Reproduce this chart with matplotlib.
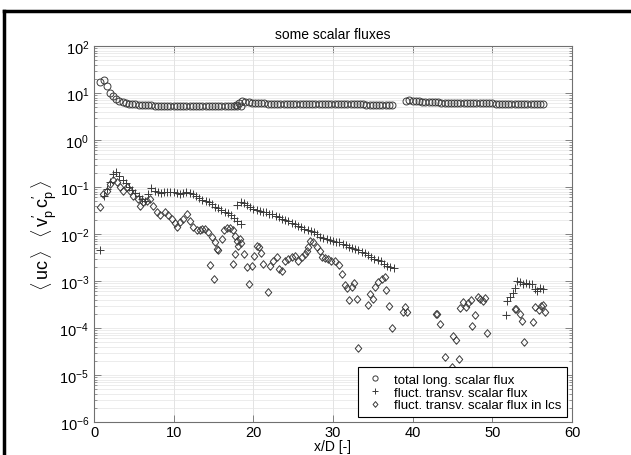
import matplotlib
matplotlib.use("Agg")
import matplotlib.pyplot as plt
from matplotlib.ticker import LogLocator, NullFormatter, FixedLocator
from matplotlib.lines import Line2D

plt.rcParams['font.family'] = ['Liberation Sans', 'DejaVu Sans']
plt.rcParams['mathtext.fontset'] = 'custom'
plt.rcParams['mathtext.rm'] = 'Liberation Sans'
plt.rcParams['mathtext.it'] = 'Liberation Sans:italic'
plt.rcParams['mathtext.bf'] = 'Liberation Sans:bold'

# ---------------- data ----------------
title = "some scalar fluxes"
xlabel = "x/D [-]"
ylabel = r"$\langle\,\mathrm{uc}\,\rangle\;\;\;\langle\,\mathrm{v}^{\prime}_{\mathrm{p}}\,\mathrm{c}^{\prime}_{\mathrm{p}}\,\rangle$"
legend_labels = ["total long. scalar flux", "fluct. transv. scalar flux",
                 "fluct. transv. scalar flux in lcs"]

# total long. scalar flux (three measurement windows)
circ_x_a = [0.8, 1.2, 1.6, 2.0, 2.4, 2.8, 3.2, 3.6, 4.0, 4.4,
            4.8, 5.2, 5.6, 6.0, 6.4, 6.8, 7.2, 7.6, 8.0, 8.4,
            8.8, 9.2, 9.6, 10.0, 10.4, 10.8, 11.2, 11.6, 12.0, 12.4,
            12.8, 13.2, 13.6, 14.0, 14.4, 14.8, 15.2, 15.6, 16.0, 16.4,
            16.8, 17.2, 17.6, 18.0, 18.4]
circ_y_a = [17.0, 18.5, 14.0, 10.0, 8.6, 7.4, 6.6, 6.3, 6.1, 5.9,
            5.8, 5.7, 5.6, 5.6, 5.5, 5.5, 5.5, 5.4, 5.4, 5.4,
            5.4, 5.4, 5.3, 5.3, 5.3, 5.3, 5.3, 5.3, 5.3, 5.3,
            5.3, 5.3, 5.3, 5.3, 5.2, 5.2, 5.2, 5.2, 5.2, 5.2,
            5.2, 5.2, 5.2, 5.3, 5.3]
circ_x_b = [17.8, 18.2, 18.6, 19.0, 19.4, 19.8, 20.2, 20.6, 21.0, 21.4,
            21.8, 22.2, 22.6, 23.0, 23.4, 23.8, 24.2, 24.6, 25.0, 25.4,
            25.8, 26.2, 26.6, 27.0, 27.4, 27.8, 28.2, 28.6, 29.0, 29.4,
            29.8, 30.2, 30.6, 31.0, 31.4, 31.8, 32.2, 32.6, 33.0, 33.4,
            33.8, 34.2, 34.6, 35.0, 35.4, 35.8, 36.2, 36.6, 37.0, 37.4]
circ_y_b = [5.6, 6.2, 6.7, 6.5, 6.3, 6.2, 6.1, 6.0, 6.0, 6.0,
            5.9, 5.9, 5.9, 5.9, 5.9, 5.9, 5.9, 5.8, 5.8, 5.8,
            5.8, 5.8, 5.8, 5.8, 5.9, 5.9, 5.8, 5.8, 5.8, 5.8,
            5.8, 5.8, 5.7, 5.7, 5.7, 5.7, 5.7, 5.7, 5.7, 5.7,
            5.7, 5.6, 5.6, 5.6, 5.6, 5.6, 5.6, 5.6, 5.6, 5.6]
circ_x_c = [39.2, 39.6, 40.0, 40.4, 40.8, 41.2, 41.6, 42.0, 42.4, 42.8,
            43.2, 43.6, 44.0, 44.4, 44.8, 45.2, 45.6, 46.0, 46.4, 46.8,
            47.2, 47.6, 48.0, 48.4, 48.8, 49.2, 49.6, 50.0, 50.4, 50.8,
            51.2, 51.6, 52.0, 52.4, 52.8, 53.2, 53.6, 54.0, 54.4, 54.8,
            55.2, 55.6, 56.0, 56.4]
circ_y_c = [6.6, 7.1, 6.9, 6.7, 6.6, 6.5, 6.4, 6.4, 6.3, 6.3,
            6.3, 6.2, 6.2, 6.2, 6.2, 6.1, 6.1, 6.1, 6.1, 6.0,
            6.0, 6.0, 6.0, 6.0, 6.0, 6.0, 6.0, 6.0, 5.9, 5.9,
            5.9, 5.9, 5.9, 5.9, 5.9, 5.9, 5.9, 5.9, 5.9, 5.8,
            5.8, 5.8, 5.8, 5.8]

# fluct. transv. scalar flux
plus_x_a = [0.8, 1.2, 1.6, 2.0, 2.4, 2.8, 3.2, 3.6, 4.0, 4.4,
            4.8, 5.2, 5.6, 6.0, 6.4, 6.8, 7.2, 7.6, 8.0, 8.4,
            8.8, 9.2, 9.6, 10.0, 10.4, 10.8, 11.2, 11.6, 12.0, 12.4,
            12.8, 13.2, 13.6, 14.0, 14.4, 14.8, 15.2, 15.6, 16.0, 16.4,
            16.8, 17.2, 17.6, 18.0, 18.4]
plus_y_a = [0.0045, 0.065, 0.09, 0.13, 0.19, 0.21, 0.17, 0.14, 0.12, 0.10,
            0.085, 0.075, 0.065, 0.056, 0.05, 0.07, 0.095, 0.082, 0.078, 0.076,
            0.077, 0.078, 0.08, 0.079, 0.076, 0.072, 0.075, 0.077, 0.075, 0.07,
            0.063, 0.058, 0.052, 0.05, 0.048, 0.044, 0.038, 0.035, 0.032, 0.03,
            0.028, 0.025, 0.022, 0.019, 0.016]
plus_x_b = [18.0, 18.4, 18.8, 19.2, 19.6, 20.0, 20.4, 20.8, 21.2, 21.6,
            22.0, 22.4, 22.8, 23.2, 23.6, 24.0, 24.4, 24.8, 25.2, 25.6,
            26.0, 26.4, 26.8, 27.2, 27.6, 28.0, 28.4, 28.8, 29.2, 29.6,
            30.0, 30.4, 30.8, 31.2, 31.6, 32.0, 32.4, 32.8, 33.2, 33.6,
            34.0, 34.4, 34.8, 35.2, 35.6, 36.0, 36.4, 36.8, 37.2, 37.6]
plus_y_b = [0.042, 0.048, 0.045, 0.041, 0.037, 0.034, 0.032, 0.031, 0.03, 0.029,
            0.027, 0.026, 0.024, 0.023, 0.021, 0.02, 0.019, 0.017, 0.016, 0.015,
            0.014, 0.013, 0.012, 0.0115, 0.011, 0.0098, 0.0088, 0.0082, 0.0077, 0.0073,
            0.0071, 0.0069, 0.0066, 0.0062, 0.0058, 0.0054, 0.0051, 0.0049, 0.0046, 0.0042,
            0.0039, 0.0036, 0.0033, 0.003, 0.0028, 0.0026, 0.0023, 0.0021, 0.002, 0.0019]
plus_x_c = [51.7, 51.9, 52.2, 52.6, 52.9, 53.1, 53.5, 53.9, 54.2, 54.6,
            55.0, 55.3, 55.6, 56.0, 56.4]
plus_y_c = [0.00019, 0.00037, 0.00046, 0.00055, 0.00071, 0.0010, 0.00095, 0.00085, 0.0009, 0.00088,
            0.00085, 0.00068, 0.00062, 0.0007, 0.00068]

# fluct. transv. scalar flux in lcs
dia_x = [0.75, 1.1, 1.6, 2.0, 2.4, 2.9, 3.3, 3.7, 4.1, 4.5,
         4.9, 5.5, 5.8, 6.2, 6.6, 7.0, 7.4, 7.9, 8.3, 8.9,
         9.3, 9.8, 10.2, 10.4, 10.8, 11.2, 11.7, 12.0, 12.4, 12.9,
         13.3, 13.6, 13.9, 14.3, 14.6, 14.8, 15.0, 15.2, 15.4, 15.6,
         16.1, 16.3, 16.7, 17.1, 17.4, 17.4, 17.7, 17.7, 17.9, 18.1,
         18.3, 18.5, 18.8, 19.2, 19.5, 19.8, 20.1, 20.4, 20.7, 20.9,
         21.2, 21.8, 22.1, 22.5, 23.0, 23.2, 23.6, 24.0, 24.4, 24.8,
         25.2, 25.6, 26.1, 26.5, 26.7, 26.9, 27.1, 27.5, 28.0, 28.4,
         28.6, 29.0, 29.4, 29.8, 30.3, 30.7, 31.1, 31.5, 31.7, 32.0,
         32.4, 32.6, 33.0, 33.2, 34.4, 34.7, 35.0, 35.3, 35.7, 36.1,
         36.5, 36.7, 37.0, 37.4, 38.8, 39.0, 39.3, 42.9, 43.1, 43.4,
         44.0, 44.9, 45.1, 45.4, 45.8, 46.0, 46.3, 46.7, 47.0, 47.3,
         47.5, 47.8, 48.2, 48.4, 48.8, 49.1, 49.3, 52.8, 53.0, 53.5,
         53.7, 54.0, 55.1, 55.4, 55.8, 56.1, 56.4, 56.6]
dia_y = [0.037, 0.071, 0.082, 0.115, 0.14, 0.13, 0.10, 0.082, 0.10, 0.082,
         0.064, 0.056, 0.04, 0.047, 0.05, 0.056, 0.039, 0.03, 0.025, 0.03,
         0.025, 0.021, 0.017, 0.014, 0.018, 0.021, 0.027, 0.019, 0.014, 0.012,
         0.012, 0.013, 0.013, 0.011, 0.0022, 0.0087, 0.0011, 0.0068, 0.0048, 0.0045,
         0.0079, 0.012, 0.0135, 0.0135, 0.012, 0.0023, 0.0092, 0.0037, 0.0072, 0.0055,
         0.0079, 0.0063, 0.0037, 0.002, 0.00087, 0.0021, 0.0034, 0.0055, 0.0053, 0.004,
         0.0023, 0.00059, 0.0021, 0.0027, 0.0032, 0.0018, 0.0016, 0.0027, 0.003, 0.0032,
         0.0034, 0.0027, 0.0032, 0.0037, 0.0044, 0.0053, 0.0072, 0.0069, 0.0053, 0.0043,
         0.0032, 0.0031, 0.003, 0.0027, 0.0026, 0.0022, 0.0014, 0.00081, 0.0007, 0.0004,
         0.00075, 0.0009, 0.00042, 0.000037, 0.00031, 0.00052, 0.00042, 0.00075, 0.00094, 0.0011,
         0.0012, 0.00064, 0.00029, 0.0001, 0.00022, 0.00028, 0.00022, 0.0002, 0.0002, 0.00012,
         0.000024, 0.000015, 0.000067, 0.000055, 0.000022, 0.00027, 0.00035, 0.00028, 0.00034, 0.0004,
         0.00011, 0.00019, 0.00046, 0.00042, 0.00038, 0.00044, 0.00008, 0.00025, 0.00025, 0.0002,
         0.00014, 0.00005, 0.000135, 0.00028, 0.00024, 0.00029, 0.00031, 0.00022]

x_ticks = [0, 10, 20, 30, 40, 50, 60]

# ---------------- figure ----------------
fig = plt.figure(figsize=(6.31, 4.56), dpi=100)
ax = fig.add_axes([94/631, 1-423/456, (572-94)/631, (423-47)/456])

diamond = [(0, -1), (0.85, 0), (0, 1), (-0.85, 0), (0, -1)]
mcol = '#3a3a3a'
mkw = dict(linestyle='none', markerfacecolor='none', markeredgecolor=mcol,
           markeredgewidth=0.7, color=mcol)
ax.plot(circ_x_a + circ_x_b + circ_x_c, circ_y_a + circ_y_b + circ_y_c,
        marker='o', markersize=5, label=legend_labels[0], **mkw)
ax.plot(plus_x_a + plus_x_b + plus_x_c, plus_y_a + plus_y_b + plus_y_c,
        marker='+', markersize=5.5, label=legend_labels[1], **mkw)
ax.plot(dia_x, dia_y, marker=diamond, markersize=5.5, label=legend_labels[2], **mkw)

ax.set_yscale('log')
ax.set_xlim(0, 60)
ax.set_ylim(1e-6, 1e2)
ax.xaxis.set_major_locator(FixedLocator(x_ticks))
ax.yaxis.set_major_locator(LogLocator(base=10, numticks=20))
ax.yaxis.set_minor_locator(LogLocator(base=10, subs=range(2, 10), numticks=100))
ax.yaxis.set_minor_formatter(NullFormatter())

ax.grid(True, which='major', axis='x', color='#dedede', lw=0.6)
ax.grid(True, which='both', axis='y', color='#e4e4e4', lw=0.5)
ax.set_axisbelow(True)

for s in ax.spines.values():
    s.set_color('#707070')
    s.set_linewidth(0.8)
ax.tick_params(which='both', direction='in', top=True, right=True,
               colors='#707070', labelcolor='black', labelsize=10.5)
ax.tick_params(which='major', length=5, width=0.6)
ax.tick_params(which='minor', length=2.5, width=0.5)
ax.tick_params(axis='x', pad=2)

ax.set_title(title, fontsize=10, pad=6)
ax.set_xlabel(xlabel, fontsize=10, labelpad=0)
ax.set_ylabel(ylabel, fontsize=13, labelpad=0)

leg = ax.legend(loc='lower right', fontsize=9.5, frameon=True, fancybox=False,
                markerscale=0.75, borderaxespad=0.35, handlelength=1.6,
                handletextpad=0.65, borderpad=0.45, labelspacing=0.05)
leg.get_frame().set_edgecolor('black')
leg.get_frame().set_linewidth(0.8)
leg.get_frame().set_alpha(1)

# outer black frame (cropped at right and bottom)
fig.add_artist(Line2D([4/631, 4/631], [0, 1-12/456], transform=fig.transFigure,
                      color='black', lw=2.5))
fig.add_artist(Line2D([4/631, 1], [1-12/456, 1-12/456], transform=fig.transFigure,
                      color='black', lw=2.5))

fig.savefig('out.png', dpi=100)
